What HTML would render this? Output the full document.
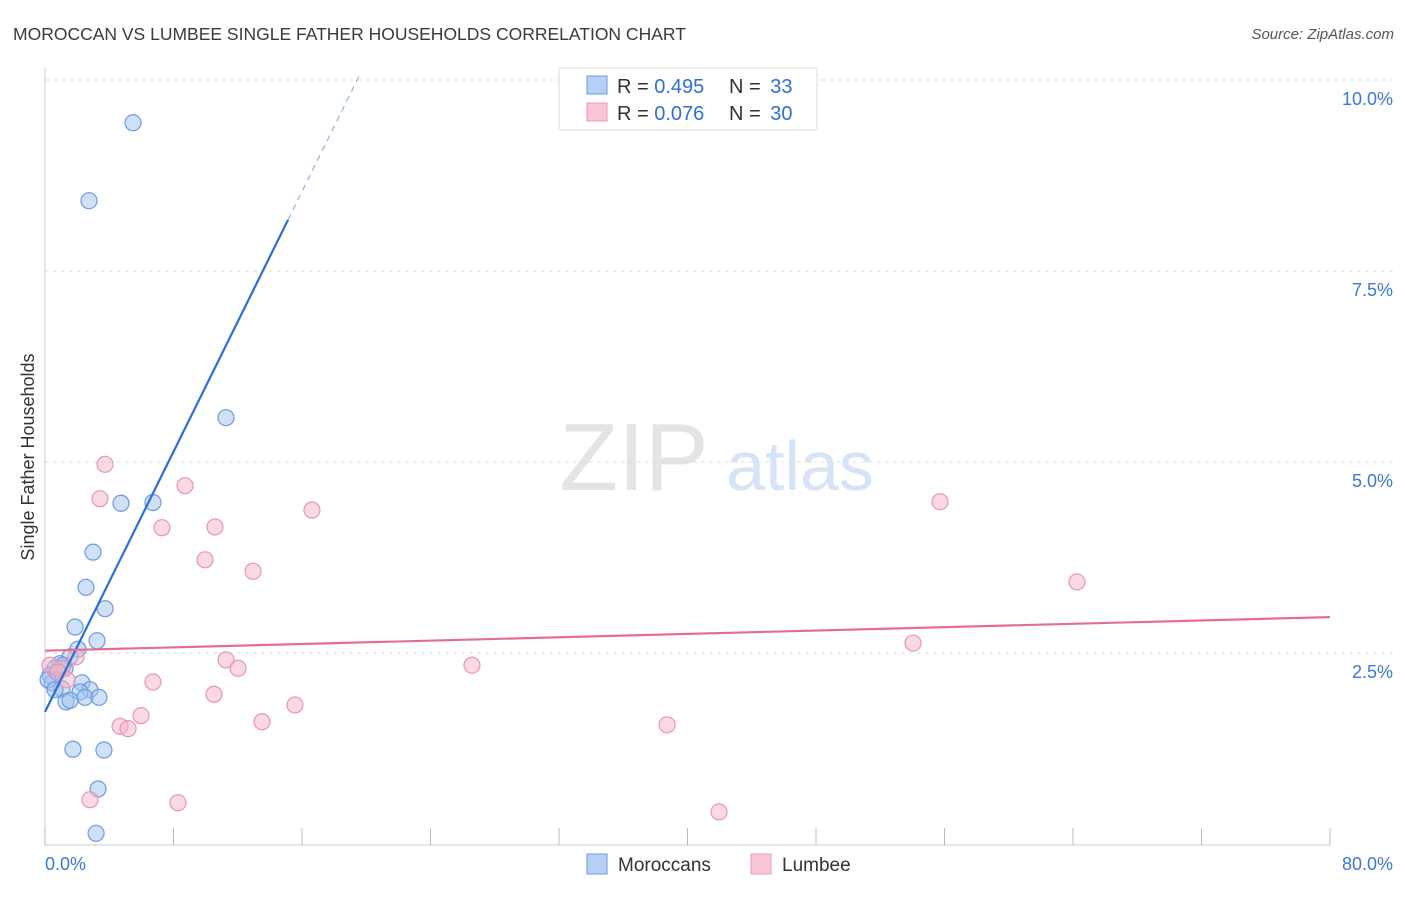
<!DOCTYPE html>
<html><head><meta charset="utf-8"><style>
body{margin:0;background:#fff;font-family:"Liberation Sans",sans-serif}
svg text{font-family:"Liberation Sans",sans-serif}
</style></head><body>
<svg width="1406" height="892" id="c">
<text x="13" y="40" font-size="17.5" fill="#3a3a3a">MOROCCAN VS LUMBEE SINGLE FATHER HOUSEHOLDS CORRELATION CHART</text>
<text x="1394" y="39" font-size="15" fill="#555" font-style="italic" text-anchor="end">Source: ZipAtlas.com</text>
<text x="634" y="490" font-size="96" fill="#e4e4e4" font-family="Liberation Serif" text-anchor="middle">ZIP</text>
<text x="800" y="490" font-size="70" fill="#d6e4f5" text-anchor="middle">atlas</text>
<text transform="translate(34,457) rotate(-90)" font-size="18" fill="#333" text-anchor="middle">Single Father Households</text>
<g id="grid"></g><g id="marks"></g>
<g>
<rect x="559" y="68" width="258" height="62" fill="#fff" stroke="#ddd"/>
<rect x="587" y="76" width="20" height="18" fill="#b7d0f3" stroke="#6d9be0"/>
<rect x="587" y="103" width="20" height="18" fill="#f8c6d4" stroke="#eb9ab3"/>
<text x="617" y="93" font-size="20" fill="#333">R = <tspan fill="#2f6fd6">0.495</tspan></text>
<text x="729" y="93" font-size="20" fill="#333">N = <tspan fill="#2f6fd6" dx="4">33</tspan></text>
<text x="617" y="120" font-size="20" fill="#333">R = <tspan fill="#2f6fd6">0.076</tspan></text>
<text x="729" y="120" font-size="20" fill="#333">N = <tspan fill="#2f6fd6" dx="4">30</tspan></text>
</g>
<g>
<rect x="587" y="854" width="20" height="20" fill="#b7d0f3" stroke="#6d9be0"/>
<text x="618" y="871" font-size="19" fill="#333">Moroccans</text>
<rect x="751" y="854" width="20" height="20" fill="#f8c6d4" stroke="#eb9ab3"/>
<text x="782" y="871" font-size="19" fill="#333">Lumbee</text>
</g>
</svg>
<script>
const yTicks=[2.5,5.0,7.5,10.0];
const xTickLabels=["0.0%","80.0%"];
const blueX=[5.48,2.74,11.27,4.73,6.72,2.99,2.55,3.74,1.87,3.24,2.05,1.56,0.93,1.25,0.62,0.31,0.44,2.30,1.06,2.80,2.18,2.49,3.36,1.31,1.56,1.74,3.67,3.30,3.18,0.75,0.19,1.12,0.62];
const blueY=[9.44,8.42,5.58,4.46,4.47,3.82,3.36,3.08,2.84,2.66,2.55,2.45,2.36,2.30,2.30,2.21,2.11,2.11,2.03,2.02,1.99,1.92,1.92,1.86,1.88,1.24,1.23,0.72,0.14,2.25,2.15,2.34,2.02];
const pinkX=[3.74,8.72,3.42,16.62,7.28,10.58,9.96,12.95,55.72,64.25,54.04,1.93,11.27,12.02,26.58,1.06,6.72,10.52,15.56,5.98,4.67,5.17,13.51,38.73,2.80,8.28,41.96,0.31,0.81,1.37];
const pinkY=[4.97,4.69,4.52,4.37,4.14,4.15,3.72,3.57,4.48,3.43,2.63,2.45,2.41,2.30,2.34,2.30,2.12,1.96,1.82,1.68,1.54,1.51,1.60,1.56,0.58,0.54,0.42,2.34,2.25,2.15];
const blueTrend=[1.73,0.4256]; const blueSolidEnd=15.13; const blueDashEnd=19.6;
const pinkTrend=[2.53,0.0055];
const X=v=>45+v/80*1285, Y=v=>844-v/2.5*191;
const NS="http://www.w3.org/2000/svg";
const grid=document.getElementById('grid'), marks=document.getElementById('marks');
function mk(p,tag,a){const e=document.createElementNS(NS,tag);for(const k in a)e.setAttribute(k,a[k]);p.appendChild(e);return e;}
let ax=mk(grid,'line',{x1:45,y1:68,x2:45,y2:845,stroke:'#ccc'});


let bx=mk(grid,'line',{x1:45,y1:845,x2:1330,y2:845,stroke:'#ccc'});


yTicks.forEach(t=>{
 const g=mk(grid,'line',{x1:45,y1:Y(t),x2:1394,y2:Y(t),stroke:'#ddd','stroke-dasharray':'4,4'});
 
 
 const tx=mk(grid,'text',{x:1393,y:Y(t)+25,'font-size':18,fill:'#3b78d8','text-anchor':'end'});
 tx.textContent=t.toFixed(1)+'%';
 
 
});
for(let i=0;i<=10;i++){
 const t=mk(grid,'line',{x1:X(i*8),y1:828,x2:X(i*8),y2:845,stroke:'#bbb'});
 
 
}
[[0,45,'start'],[1,1393,'end']].forEach(([i,x,a])=>{
 const t=mk(grid,'text',{x:x,y:870,'font-size':18,fill:'#3b78d8','text-anchor':a});
 t.textContent=xTickLabels[i];
 
 
});
blueX.forEach((x,i)=>{
 const c=mk(marks,'circle',{cx:X(x),cy:Y(blueY[i]),r:8,fill:'rgba(160,195,240,0.5)',stroke:'#6b9be0','stroke-width':1.2});
 
 
});
pinkX.forEach((x,i)=>{
 const c=mk(marks,'circle',{cx:X(x),cy:Y(pinkY[i]),r:8,fill:'rgba(245,180,200,0.5)',stroke:'#e996b0','stroke-width':1.2});
 
 
});
const bl=mk(marks,'line',{x1:X(0),y1:Y(blueTrend[0]),x2:X(blueSolidEnd),y2:Y(blueTrend[0]+blueTrend[1]*blueSolidEnd),stroke:'#2a6fd6','stroke-width':2.2});


const bd=mk(marks,'line',{x1:X(blueSolidEnd),y1:Y(blueTrend[0]+blueTrend[1]*blueSolidEnd),x2:X(blueDashEnd),y2:Y(blueTrend[0]+blueTrend[1]*blueDashEnd),stroke:'#8fb2e6','stroke-width':1.2,'stroke-dasharray':'6,5'});


const pl=mk(marks,'line',{x1:X(0),y1:Y(pinkTrend[0]),x2:X(80),y2:Y(pinkTrend[0]+pinkTrend[1]*80),stroke:'#e56c97','stroke-width':2.2});


</script>
</body></html>
